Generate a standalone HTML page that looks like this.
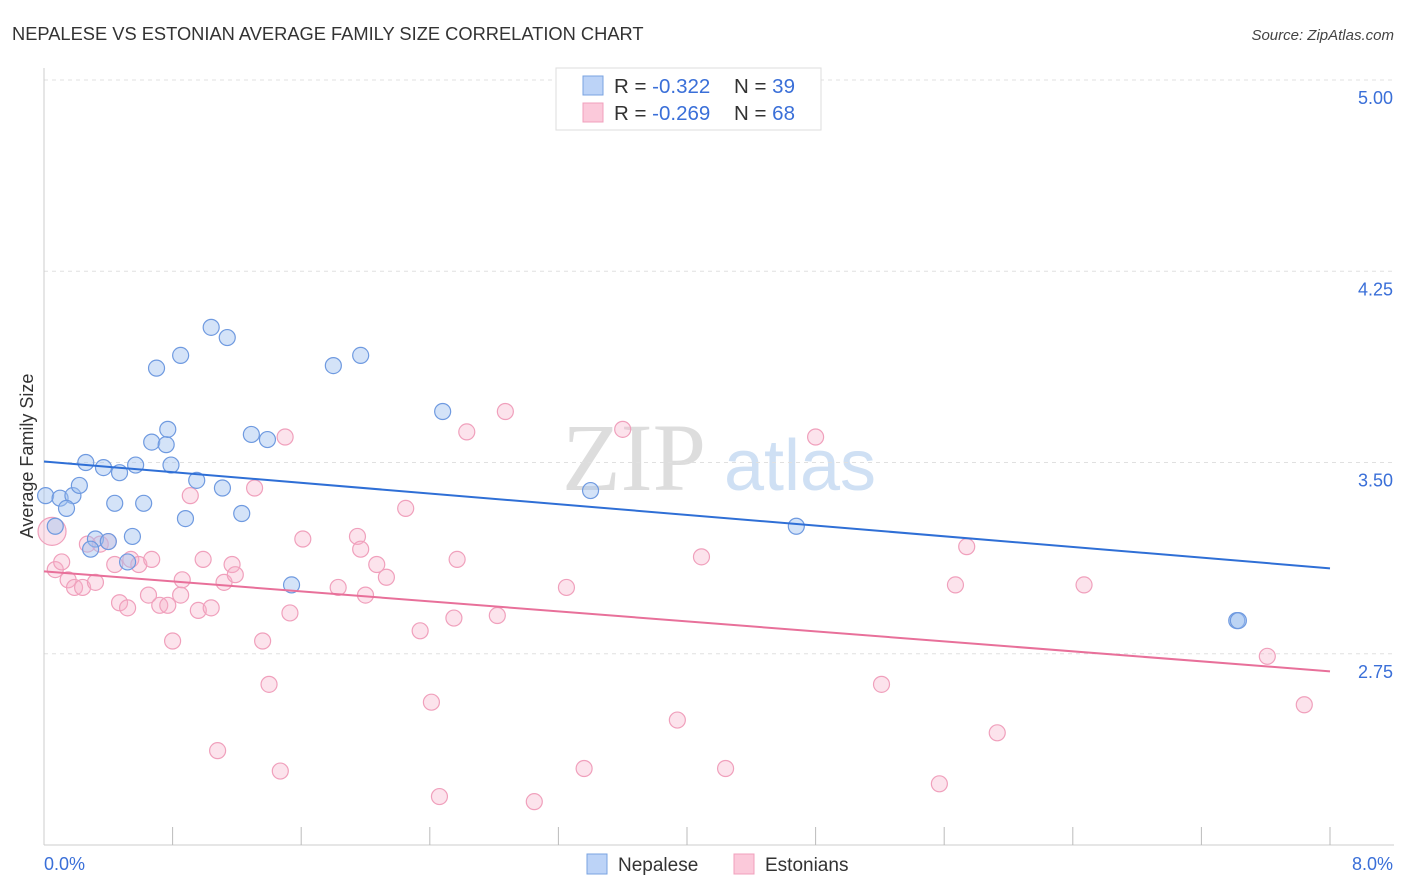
<!DOCTYPE html>
<html><head><meta charset="utf-8">
<style>
body{margin:0;background:#fff;font-family:"Liberation Sans",sans-serif;}
svg{display:block}
</style></head>
<body>
<svg id="chart" width="1406" height="892" xmlns="http://www.w3.org/2000/svg">
<text x="12" y="40" font-size="18.3" fill="#333">NEPALESE VS ESTONIAN AVERAGE FAMILY SIZE CORRELATION CHART</text>
<text x="1394" y="40" font-size="15" fill="#444" text-anchor="end" font-style="italic">Source: ZipAtlas.com</text>
<g>
<text x="634" y="490" font-size="96" fill="#ddd" font-family="Liberation Serif" text-anchor="middle">ZIP</text>
<text x="800" y="490" font-size="72" fill="#cfe0f4" text-anchor="middle">atlas</text>
</g>
<g id="grid"></g>
<g id="axes"></g>
<g id="marks"></g>
<text transform="translate(33,456) rotate(-90)" font-size="18" fill="#333" text-anchor="middle">Average Family Size</text>
<g>
<rect x="556" y="68" width="265" height="62" fill="#fff" stroke="#ddd"/>
<rect x="583" y="76" width="20" height="19" fill="#bcd3f7" stroke="#7aa3e0"/>
<rect x="583" y="103" width="20" height="19" fill="#fbc9da" stroke="#f0a0bc"/>
<text x="614" y="93" font-size="20.5" fill="#333">R = <tspan fill="#3a6fd8">-0.322</tspan></text>
<text x="734" y="93" font-size="20.5" fill="#333">N = <tspan fill="#3a6fd8">39</tspan></text>
<text x="614" y="120" font-size="20.5" fill="#333">R = <tspan fill="#3a6fd8">-0.269</tspan></text>
<text x="734" y="120" font-size="20.5" fill="#333">N = <tspan fill="#3a6fd8">68</tspan></text>
</g>
<g>
<rect x="587" y="854" width="20" height="20" fill="#bcd3f7" stroke="#7aa3e0"/>
<text x="618" y="871" font-size="19" fill="#333">Nepalese</text>
<rect x="734" y="854" width="20" height="20" fill="#fbc9da" stroke="#f0a0bc"/>
<text x="765" y="871" font-size="19" fill="#333">Estonians</text>
</g>
</svg>
<script>
const yTicks=[5.00,4.25,3.50,2.75];
const yTickLabels=["5.00","4.25","3.50","2.75"];
const xTickCount=10;
const xDomain=[0,8];
const yDomain=[2,5];
const nepaleseX=[.01,.10,.18,.14,.07,.22,.26,.37,.47,.57,.44,.62,.32,.29,.40,.55,.52,.70,.85,1.04,1.14,.67,.76,.77,.79,.95,.88,1.11,1.23,1.29,1.39,1.54,1.80,1.97,2.48,3.40,4.68,7.42,7.43];
const nepaleseY=[3.37,3.36,3.37,3.32,3.25,3.41,3.50,3.48,3.46,3.49,3.34,3.34,3.20,3.16,3.19,3.21,3.11,3.87,3.92,4.03,3.99,3.58,3.57,3.63,3.49,3.43,3.28,3.40,3.30,3.61,3.59,3.02,3.88,3.92,3.70,3.39,3.25,2.88,2.88];
const estonianX=[.05,.07,.11,.15,.19,.24,.32,.27,.35,.40,.44,.47,.52,.54,.59,.67,.65,.72,.77,.80,.85,.86,.91,.99,.96,1.04,1.12,1.17,1.19,1.08,1.31,1.36,1.40,1.47,1.50,1.53,1.61,1.83,1.95,1.97,2.00,2.07,2.13,2.25,2.34,2.41,2.46,2.55,2.57,2.63,2.82,2.87,3.05,3.25,3.36,3.60,3.94,4.09,4.24,4.80,5.21,5.57,5.67,5.74,5.93,6.47,7.61,7.84];
const estonianY=[3.23,3.08,3.11,3.04,3.01,3.01,3.03,3.18,3.18,3.19,3.10,2.95,2.93,3.12,3.10,3.12,2.98,2.94,2.94,2.80,2.98,3.04,3.37,3.12,2.92,2.93,3.03,3.10,3.06,2.37,3.40,2.80,2.63,2.29,3.60,2.91,3.20,3.01,3.21,3.16,2.98,3.10,3.05,3.32,2.84,2.56,2.19,2.89,3.12,3.62,2.90,3.70,2.17,3.01,2.30,3.63,2.49,3.13,2.30,3.60,2.63,2.24,3.02,3.17,2.44,3.02,2.74,2.55];
const nepaleseTrend=[3.504,3.085];
const estonianTrend=[3.073,2.681];

const L=44,R=1330,T=80,B=845;
const sx=v=>L+(v-xDomain[0])/(xDomain[1]-xDomain[0])*(R-L);
const sy=v=>B-(v-yDomain[0])/(yDomain[1]-yDomain[0])*(B-T);
const NS="http://www.w3.org/2000/svg";
function mk(tag,attrs,parent){const e=document.createElementNS(NS,tag);for(const k in attrs)e.setAttribute(k,attrs[k]);document.getElementById(parent).appendChild(e);return e;}

yTicks.forEach((t,i)=>{
  const g=mk('line',{x1:L,x2:1394,y1:sy(t),y2:sy(t),stroke:'#e0e0e0','stroke-dasharray':'4,4'},'grid');
  
  
  const tx=mk('text',{x:1393,y:sy(t)+24,'font-size':18,fill:'#3a6fd8','text-anchor':'end'},'axes');
  tx.textContent=yTickLabels[i];
  
  
});
const ax=mk('line',{x1:L,x2:1394,y1:B,y2:B,stroke:'#ccc'},'axes');


const ay=mk('line',{x1:L,x2:L,y1:68,y2:B,stroke:'#ccc'},'axes');


for(let i=1;i<=xTickCount;i++){
  const v=xDomain[0]+i*(xDomain[1]-xDomain[0])/xTickCount;
  const t=mk('line',{x1:sx(v),x2:sx(v),y1:B-18,y2:B,stroke:'#bbb'},'axes');
  
  
}
const xl=mk('text',{x:44,y:870,'font-size':18,fill:'#3a6fd8'},'axes');xl.textContent='0.0%';


const xr=mk('text',{x:1393,y:870,'font-size':18,fill:'#3a6fd8','text-anchor':'end'},'axes');xr.textContent='8.0%';



estonianX.forEach((x,i)=>{
  const c=mk('circle',{cx:sx(x),cy:sy(estonianY[i]),r:i===0?14:8,fill:'rgba(246,175,200,0.35)',stroke:'#f0a0bc','stroke-width':1.2},'marks');
  
  
});
nepaleseX.forEach((x,i)=>{
  const c=mk('circle',{cx:sx(x),cy:sy(nepaleseY[i]),r:8,fill:'rgba(160,192,240,0.45)',stroke:'#6f9ae0','stroke-width':1.2},'marks');
  
  
});
const tb=mk('line',{x1:sx(0),y1:sy(nepaleseTrend[0]),x2:sx(8),y2:sy(nepaleseTrend[1]),stroke:'#2f6fd6','stroke-width':2},'marks');


const tp=mk('line',{x1:sx(0),y1:sy(estonianTrend[0]),x2:sx(8),y2:sy(estonianTrend[1]),stroke:'#e8709a','stroke-width':2},'marks');


</script>
</body></html>
